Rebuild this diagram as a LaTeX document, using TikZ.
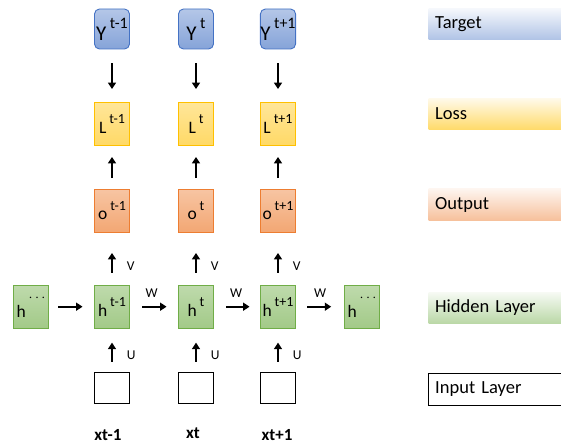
\documentclass[tikz,border=0pt]{standalone}
\usepackage{fontspec}
\setmainfont{Carlito}
\usetikzlibrary{arrows.meta}

\definecolor{tblue}{HTML}{4472C4}
\definecolor{lgold}{HTML}{FFC000}
\definecolor{oorange}{HTML}{ED7D31}
\definecolor{hgreen}{HTML}{70AD47}

% letter with its time step raised beside it
\newcommand{\tsym}[3][10pt]{#2\,\raisebox{#1}{\fontsize{14}{14}\selectfont #3}}

\begin{document}
\begin{tikzpicture}[
  x=1pt, y=-1pt,
  cell/.style={draw, line width=0.9pt, minimum width=35pt, minimum height=43pt, inner sep=0pt, font=\fontsize{17.5}{17.5}\selectfont},
  target/.style={cell, rounded corners=5pt, minimum height=40pt, draw=tblue, top color=tblue!40!white, bottom color=tblue!65!white, font=\fontsize{21}{21}\selectfont},
  loss/.style={cell, draw=lgold, top color=lgold!40!white, bottom color=lgold!60!white},
  output/.style={cell, draw=oorange, top color=oorange!45!white, bottom color=oorange!68!white},
  hidden/.style={cell, draw=hgreen, top color=hgreen!45!white, bottom color=hgreen!65!white},
  input/.style={cell, draw=black, minimum height=31pt},
  arr/.style={-{Triangle[length=6.5pt,width=8pt]}, line width=1.7pt},
  wt/.style={inner sep=0pt, font=\fontsize{13.5}{13.5}\selectfont},
  xlbl/.style={inner sep=0pt, font=\fontsize{17}{17}\selectfont\bfseries},
  legend/.style={anchor=west, minimum height=31pt, text width=119pt, inner xsep=6.7pt, inner ysep=0pt, align=left, font=\fontsize{18.5}{18.5}\selectfont}
]
\useasboundingbox (0,0) rectangle (561,446);

% targets, losses and outputs
\node[target] (y1) at (112,29) {\tsym[12pt]{Y}{\fontsize{16}{16}\selectfont t-1}};
\node[target] (y2) at (196,29) {\tsym[12pt]{Y}{\fontsize{16}{16}\selectfont t}};
\node[target] (y3) at (278,29) {\tsym[12pt]{Y}{\fontsize{16}{16}\selectfont t+1}};

\node[loss] (l1) at (112,124) {\tsym{L}{t-1}};
\node[loss] (l2) at (196,124) {\tsym{L}{t}};
\node[loss] (l3) at (278,124) {\tsym{L}{t+1}};

\node[output] (o1) at (112,211) {\tsym[9pt]{o}{t-1}};
\node[output] (o2) at (196,211) {\tsym[9pt]{o}{t}};
\node[output] (o3) at (278,211) {\tsym[9pt]{o}{t+1}};

% hidden states, unrolled in time
\node[hidden] (h0) at (31,306.7) {\tsym[16pt]{h}{$\cdots$}};
\node[hidden] (h1) at (112,306.7) {\tsym{h}{t-1}};
\node[hidden] (h2) at (196,306.7) {\tsym{h}{t}};
\node[hidden] (h3) at (278,306.7) {\tsym{h}{t+1}};
\node[hidden] (h4) at (362,306.7) {\tsym[16pt]{h}{$\cdots$}};

% inputs
\node[input] (x1) at (112,388) {};
\node[input] (x2) at (196,388) {};
\node[input] (x3) at (278,388) {};

\node[xlbl] (xl1) at (108,435) {xt-1};
\node[xlbl] (xl2) at (193,432.7) {xt};
\node[xlbl] (xl3) at (277,435) {xt+1};

% connections
\draw[arr, shorten <=14pt, shorten >=13pt] (y1) -- (l1);
\draw[arr, shorten <=14pt, shorten >=13pt] (y2) -- (l2);
\draw[arr, shorten <=14pt, shorten >=13pt] (y3) -- (l3);

\draw[arr, shorten <=11pt, shorten >=11pt] (o1) -- (l1);
\draw[arr, shorten <=11pt, shorten >=11pt] (o2) -- (l2);
\draw[arr, shorten <=11pt, shorten >=11pt] (o3) -- (l3);

\draw[arr, shorten <=12pt, shorten >=20pt] (h1) -- node[wt, right=14pt, pos=0.36] {V} (o1);
\draw[arr, shorten <=12pt, shorten >=20pt] (h2) -- node[wt, right=14pt, pos=0.36] {V} (o2);
\draw[arr, shorten <=12pt, shorten >=20pt] (h3) -- node[wt, right=14pt, pos=0.36] {V} (o3);

\draw[arr, shorten <=10.5pt, shorten >=14pt] (x1) -- node[wt, right=14pt, pos=0.39] {U} (h1);
\draw[arr, shorten <=10.5pt, shorten >=14pt] (x2) -- node[wt, right=14pt, pos=0.39] {U} (h2);
\draw[arr, shorten <=10.5pt, shorten >=14pt] (x3) -- node[wt, right=14pt, pos=0.39] {U} (h3);

\draw[arr, shorten <=9.5pt, shorten >=11.5pt] (h0) -- (h1);
\draw[arr, shorten <=12.5pt, shorten >=11.5pt] (h1) -- node[wt, above=8pt, pos=0.45] {W} (h2);
\draw[arr, shorten <=12.5pt, shorten >=10.5pt] (h2) -- node[wt, above=8pt, pos=0.48] {W} (h3);
\draw[arr, shorten <=11.2pt, shorten >=12.8pt] (h3) -- node[wt, above=8pt, pos=0.5] {W} (h4);

% legend
\node[legend, top color=tblue!5!white, bottom color=tblue!42!white] (lg-target) at (428.3,23.8) {Target};
\node[legend, top color=lgold!8!white, bottom color=lgold!58!white] (lg-loss) at (428.3,113.7) {Loss};
\node[legend, top color=oorange!8!white, bottom color=oorange!48!white] (lg-output) at (428.3,204.5) {Output};
\node[legend, top color=hgreen!6!white, bottom color=hgreen!48!white] (lg-hidden) at (428.3,307.7) {Hidden Layer};
\node[legend] (lg-input) at (428.3,389.3) {Input Layer};
\draw[line width=0.9pt] (lg-input.north east) -- (lg-input.north west) -- (lg-input.south west) -- (lg-input.south east);
\end{tikzpicture}
\end{document}
